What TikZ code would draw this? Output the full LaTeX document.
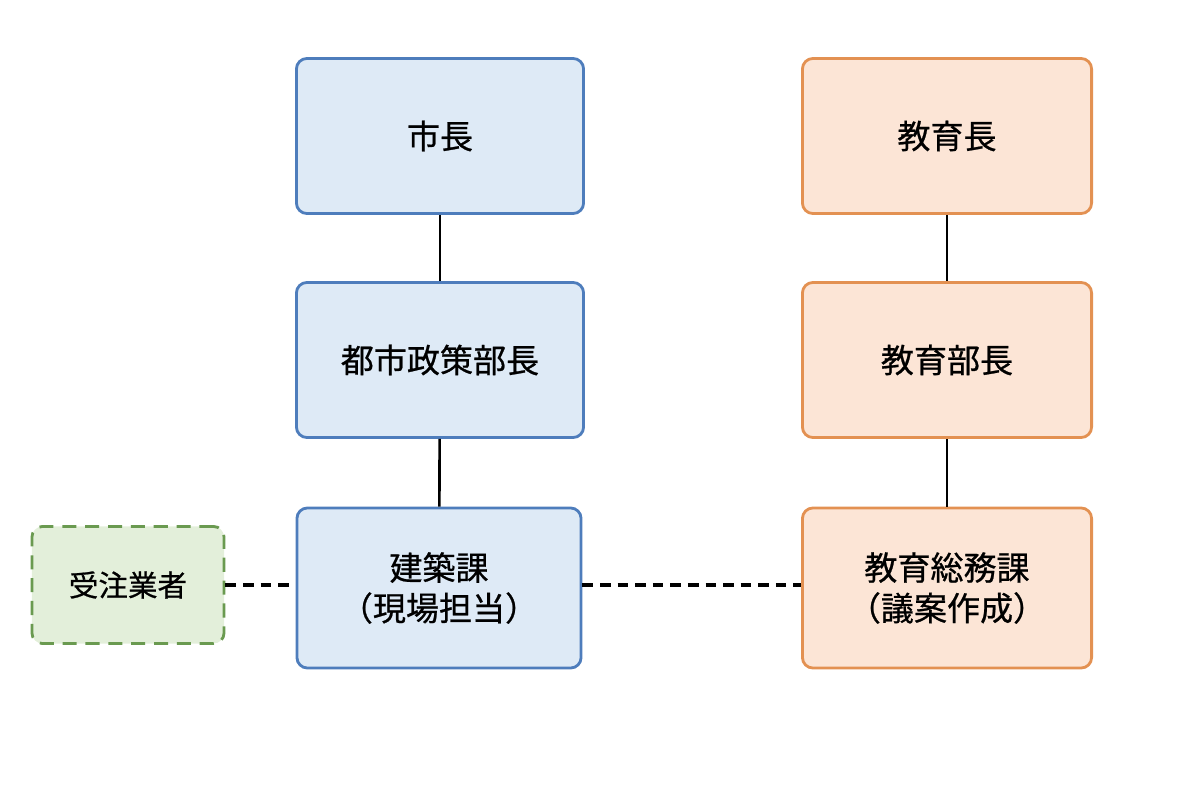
\documentclass[tikz,border=0pt]{standalone}
\usepackage{fontspec}
\setmainfont{Noto Sans CJK JP}[BoldFont={Noto Sans CJK JP}, BoldFeatures={FakeBold=0.7}]
\definecolor{cityfill}{HTML}{DEEAF6}
\definecolor{cityline}{HTML}{4E7DBC}
\definecolor{edufill}{HTML}{FCE5D6}
\definecolor{eduline}{HTML}{E39152}
\definecolor{firmfill}{HTML}{E3EFDA}
\definecolor{firmline}{HTML}{6A9A50}
\tikzset{
  citybox/.style={draw=cityline, fill=cityfill, line width=0.8pt, rounded corners=3pt,
    minimum width=2.87cm, minimum height=1.55cm, align=center, font=\fontsize{9.4}{11.5}\selectfont\bfseries},
  edubox/.style={citybox, draw=eduline, fill=edufill, minimum width=2.89cm},
  firmbox/.style={citybox, draw=firmline, fill=firmfill, dashed, dash pattern=on 4pt off 2.5pt,
    minimum width=1.92cm, minimum height=1.17cm, font=\fontsize{8.4}{10}\selectfont\bfseries},
  chain/.style={line width=0.75pt},
  liaison/.style={line width=0.9pt, dash pattern=on 3pt off 2pt}
}
\begin{document}
\begin{tikzpicture}[x=0.01cm, y=-0.01cm]
      \useasboundingbox (0,0) rectangle (1200,800);
      % city side
      \node[citybox] (mayor) at (440,136) {市長};
      \node[citybox] (urban) at (440,360) {都市政策部長};
      \node[citybox, minimum width=2.84cm, minimum height=1.6cm] (build) at (439,588) {建築課\\（現場担当）};
      % education side
      \node[edubox] (superint) at (947,136) {教育長};
      \node[edubox] (edudir) at (947,360) {教育部長};
      \node[edubox, minimum height=1.6cm] (general) at (947,588) {教育総務課\\（議案作成）};
      % contractor
      \node[firmbox] (firm) at (128,585) {受注業者};
      \draw[chain] (mayor) -- (urban);
      \draw[chain] (urban) -- (build);
      \draw[chain] (superint) -- (edudir);
      \draw[chain] (edudir) -- (general);
      \draw[liaison] (firm.east |- 0,585) -- (build.west |- 0,585);
      \draw[liaison] (build.east |- 0,585) -- (general.west |- 0,585);
    \end{tikzpicture}
\end{document}
